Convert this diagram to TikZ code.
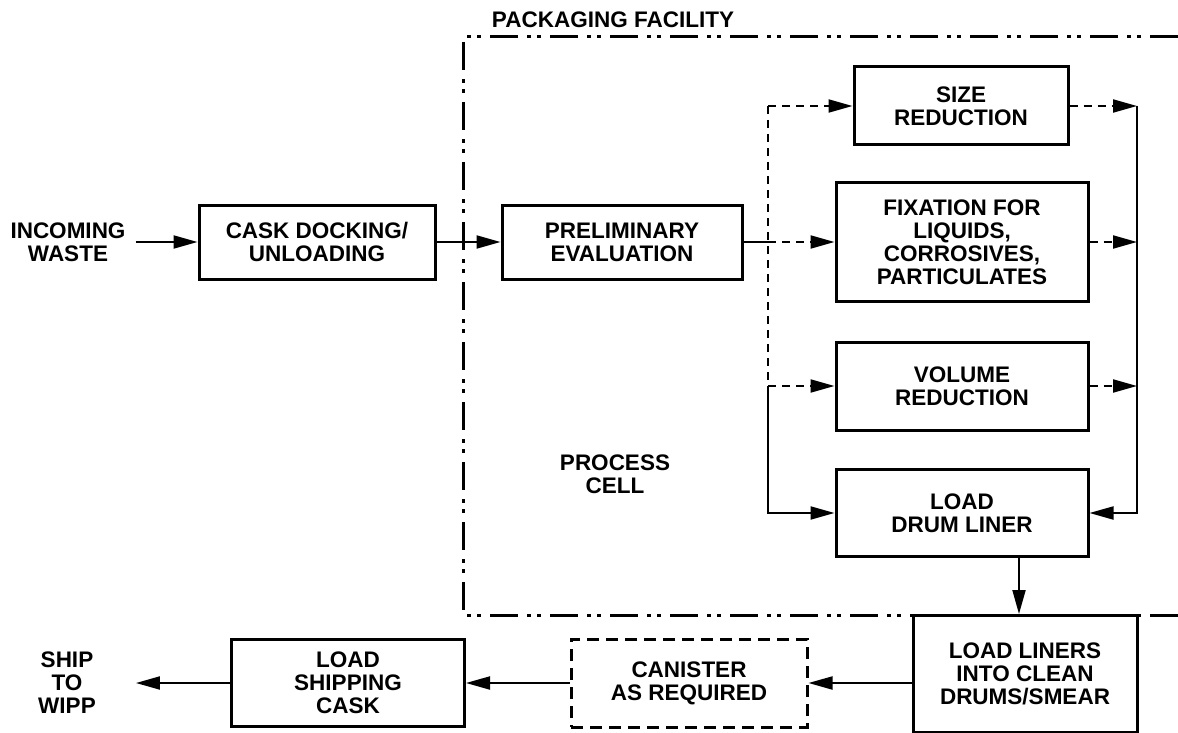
\documentclass[tikz,border=0pt]{standalone}
\usepackage{fontspec}
\setmainfont{Liberation Sans}
\usetikzlibrary{arrows.meta}

\begin{document}
\begin{tikzpicture}[
        x=1pt, y=-1pt,
        >={Triangle[length=24pt,width=13pt]},
        every node/.style={font=\bfseries\fontsize{22.5}{23}\selectfont, align=center, inner sep=0pt},
        stepbox/.style={draw, fill=white, line width=3pt},
        optbox/.style={draw, fill=white, line width=3pt, dash pattern=on 12pt off 7pt},
        flow/.style={line width=2pt},
        maybe/.style={line width=2pt, dash pattern=on 8pt off 6pt},
        facility/.style={line width=3pt, dash pattern=on 28pt off 9pt on 4pt off 6pt on 4pt off 9pt}
    ]

    \useasboundingbox (0,0) rectangle (1178,733);

    % --- Packaging facility ---
    \draw[facility] (1178,37) -- (463,37) -- (463,615) -- (1178,615);
    \node (pf) at (613,20) {PACKAGING FACILITY};
    \node (cell) at (615,474) {PROCESS\\CELL};

    % --- Receiving ---
    \node (incoming) at (68,242) {INCOMING\\WASTE};
    \node[stepbox, minimum width=236pt, minimum height=74pt] (cask) at (317,242) {CASK DOCKING/\\UNLOADING};
    \node[stepbox, minimum width=240pt, minimum height=74pt] (prelim) at (622,242) {PRELIMINARY\\EVALUATION};

    % --- Treatment ---
    \node[stepbox, minimum width=214pt, minimum height=78pt] (size) at (961,106) {SIZE\\REDUCTION};
    \node[stepbox, minimum width=252pt, minimum height=119pt] (fix) at (962,242) {FIXATION FOR\\LIQUIDS,\\CORROSIVES,\\PARTICULATES};
    \node[stepbox, minimum width=252pt, minimum height=88pt] (vol) at (962,386) {VOLUME\\REDUCTION};
    \node[stepbox, minimum width=252pt, minimum height=87pt] (liner) at (962,513) {LOAD\\DRUM LINER};

    % --- Shipping ---
    \node[stepbox, minimum width=224pt, minimum height=117pt] (clean) at (1025,674) {LOAD LINERS\\INTO CLEAN\\DRUMS/SMEAR};
    \node[optbox, minimum width=236pt, minimum height=88pt] (canister) at (689,683) {CANISTER\\AS REQUIRED};
    \node[stepbox, minimum width=233pt, minimum height=87pt] (ship) at (348,683) {LOAD\\SHIPPING\\CASK};
    \node (wipp) at (67,683) {SHIP\\TO\\WIPP};

    % --- Connectors ---
    \coordinate (fork) at (768,242);
    \coordinate (join) at (1137,242);

    \draw[flow, ->, shorten <=10pt] (incoming) -- (cask);
    \draw[flow, ->] (cask) -- (prelim);
    \draw[flow] (prelim) -- (fork);
    \draw[maybe, ->] (fork) -- (fix);
    \draw[maybe] (fork |- size) -- (fork |- vol);
    \draw[maybe, ->] (fork |- size) -- (size);
    \draw[maybe, ->] (fork |- vol) -- (vol);
    \draw[flow, ->] (fork |- vol) |- (liner);

    \draw[maybe, ->] (size) -- (join |- size);
    \draw[maybe, ->] (fix) -- (join);
    \draw[maybe, ->] (vol) -- (join |- vol);
    \draw[flow, ->] (join |- size) |- (liner);

    \draw[flow, ->] ([xshift=-6pt]clean.north |- liner.south) -- ([xshift=-6pt]clean.north);
    \draw[flow, ->] (clean.west |- canister) -- (canister);
    \draw[flow, ->] (canister) -- (ship);
    \draw[flow, ->, shorten >=40pt] (ship) -- (wipp);

\end{tikzpicture}
\end{document}
